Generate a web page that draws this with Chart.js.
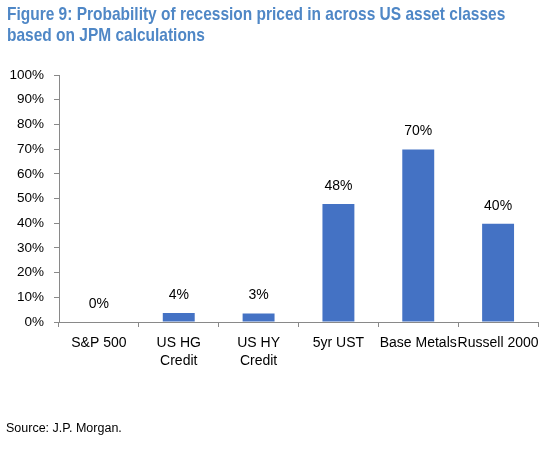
<!DOCTYPE html>
<html>
<head>
<meta charset="utf-8">
<script src="https://cdn.jsdelivr.net/npm/chart.js@4.4.1/dist/chart.umd.min.js"></script>
<style>
  html, body { margin: 0; padding: 0; background: #fff; }
  #wrap { position: relative; width: 543px; height: 450px; font-family: "Liberation Sans", Arial, sans-serif; }
  #title { position: absolute; left: 7px; top: 3px; font-size: 19px; font-weight: bold; color: #4f87c6; line-height: 21px; white-space: nowrap; transform: scaleX(0.815); transform-origin: left top; }
  #source { position: absolute; left: 6px; top: 421px; font-size: 12.5px; color: #000; }
  canvas { position: absolute; left: 0; top: 0; }
</style>
</head>
<body>
<div id="wrap">
  <canvas id="chart" width="543" height="450"></canvas>
  <div id="title">Figure 9: Probability of recession priced in across US asset classes<br>based on JPM calculations</div>
  <div id="source">Source: J.P. Morgan.</div>
</div>
<script>
const categories = ["S&P 500", ["US HG", "Credit"], ["US HY", "Credit"], "5yr UST", "Base Metals", "Russell 2000"];
const probabilities = [0, 3.6, 3.4, 47.8, 69.8, 39.8];
const valueLabels = ["0%", "4%", "3%", "48%", "70%", "40%"];
const yTicks = [0, 10, 20, 30, 40, 50, 60, 70, 80, 90, 100];

const AXIS_COLOR = "#898989";
const FONT = "Liberation Sans, Arial, sans-serif";

const barLabels = {
    id: "barLabels",
    afterDatasetsDraw(chart) {
        const ctx = chart.ctx;
        const meta = chart.getDatasetMeta(0);
        ctx.save();
        ctx.font = "14px " + FONT;
        ctx.fillStyle = "#000";
        ctx.textAlign = "center";
        ctx.textBaseline = "middle";
        meta.data.forEach((bar, i) => {
            ctx.fillText(valueLabels[i], bar.x, bar.y - 18);
        });
        ctx.restore();
    },
};

new Chart(document.getElementById("chart"), {
    type: "bar",
    data: {
        labels: categories,
        datasets: [
            {
                data: probabilities,
                backgroundColor: "#4472c4",
                barPercentage: 0.4,
                categoryPercentage: 1.0,
            },
        ],
    },
    options: {
        responsive: false,
        animation: false,
        layout: { padding: { top: 75, right: 5, bottom: 68, left: 0 } },
        plugins: {
            legend: { display: false },
            tooltip: { enabled: false },
        },
        scales: {
            x: {
                afterFit: (scale) => {
                    scale.height = 60;
                    scale.paddingLeft = 0;
                    scale.paddingRight = 0;
                },
                grid: {
                    offset: true,
                    drawOnChartArea: false,
                    tickLength: 5,
                    color: AXIS_COLOR,
                },
                border: { color: AXIS_COLOR },
                ticks: {
                    color: "#000",
                    font: { family: FONT, size: 14, lineHeight: 1.3 },
                    padding: 7,
                    maxRotation: 0,
                    autoSkip: false,
                },
            },
            y: {
                min: 0,
                max: 100,
                afterFit: (scale) => { scale.width = 59; },
                afterBuildTicks: (scale) => { scale.ticks = yTicks.map((v) => ({ value: v })); },
                grid: {
                    drawOnChartArea: false,
                    tickLength: 5,
                    color: AXIS_COLOR,
                },
                border: { color: AXIS_COLOR },
                ticks: {
                    color: "#000",
                    font: { family: FONT, size: 13.5 },
                    padding: 10,
                    callback: (v) => v + "%",
                },
            },
        },
    },
    plugins: [barLabels],
});
</script>
</body>
</html>
